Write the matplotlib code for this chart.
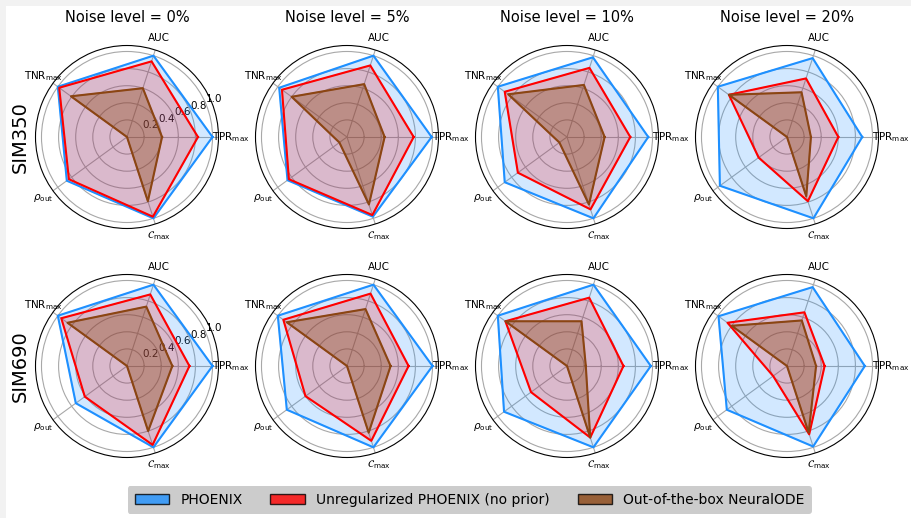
import numpy as np
import matplotlib
matplotlib.use("Agg")
import matplotlib.pyplot as plt
from matplotlib.patches import Patch, Rectangle

# axis labels (counter-clockwise from the right, 72 deg apart)
metrics = ['TPR$_{\\max}$', 'AUC', 'TNR$_{\\max}$', r'$\rho_{\mathrm{out}}$', r'$\mathcal{C}_{\max}$']
noise_levels = ['0%', '5%', '10%', '20%']
datasets = ['SIM350', 'SIM690']
methods = ['PHOENIX', 'Unregularized PHOENIX (no prior)', 'Out-of-the-box NeuralODE']
colors = ['dodgerblue', 'red', 'saddlebrown']

# values, one row per noise level
phoenix_350 = [[1.00, 1.00, 1.00, 0.87, 1.00],
               [0.99, 1.00, 0.98, 0.86, 0.98],
               [0.95, 0.98, 1.00, 0.90, 1.00],
               [0.88, 0.97, 1.00, 0.97, 1.00]]
unreg_350 = [[0.83, 0.93, 0.98, 0.84, 0.98],
             [0.78, 0.88, 0.94, 0.84, 0.96],
             [0.74, 0.85, 0.90, 0.71, 0.89],
             [0.60, 0.72, 0.84, 0.41, 0.79]]
node_350 = [[0.41, 0.60, 0.81, 0.00, 0.79],
            [0.44, 0.65, 0.80, 0.11, 0.83],
            [0.44, 0.64, 0.85, 0.11, 0.83],
            [0.28, 0.55, 0.84, 0.00, 0.73]]

phoenix_690 = [[1.00, 1.00, 1.00, 0.74, 1.00],
               [1.00, 1.00, 1.00, 0.87, 1.00],
               [0.98, 1.00, 1.00, 0.91, 1.00],
               [0.91, 0.97, 0.99, 0.87, 0.99]]
unreg_690 = [[0.73, 0.88, 0.95, 0.61, 0.97],
             [0.72, 0.89, 0.92, 0.60, 0.92],
             [0.66, 0.84, 0.89, 0.52, 0.88],
             [0.44, 0.66, 0.86, 0.20, 0.84]]
node_690 = [[0.53, 0.73, 0.86, 0.00, 0.80],
            [0.51, 0.70, 0.87, 0.00, 0.82],
            [0.22, 0.55, 0.89, 0.00, 0.88],
            [0.34, 0.56, 0.80, 0.00, 0.82]]

results = {'SIM350': [phoenix_350, unreg_350, node_350],
           'SIM690': [phoenix_690, unreg_690, node_690]}

angles = np.linspace(0, 2 * np.pi, len(metrics), endpoint=False)
closed = np.concatenate([angles, angles[:1]])

fig = plt.figure(figsize=(9.12, 5.18), dpi=100)
fig.patch.set_facecolor('#f2f2f2')
fig.add_artist(Rectangle((6 / 912, 0), 1, 1 - 6 / 518, transform=fig.transFigure,
                         facecolor='white', edgecolor='none', zorder=-1))

w, h = 183 / 912, 183 / 518
centers_x = [127, 347, 567, 787]
centers_y = [137, 366]

for i, ds in enumerate(datasets):
    for j, nl in enumerate(noise_levels):
        left = (centers_x[j] - 91.5) / 912
        bottom = (518 - centers_y[i] - 91.5) / 518
        ax = fig.add_axes([left, bottom, w, h], projection='polar')
        for k, vals in enumerate(results[ds]):
            v = np.array(vals[j] + vals[j][:1])
            ax.fill(closed, v, color=colors[k], alpha=0.37 if k == 2 else 0.2, zorder=2)
            ax.plot(closed, v, color=colors[k], lw=1.5, zorder=3)
        ax.set_ylim(0, 1.07)
        ax.set_yticks([0.2, 0.4, 0.6, 0.8, 1.0])
        if j == 0:
            ax.set_yticklabels(['0.2', '0.4', '0.6', '0.8', '1.0'], fontsize=7.5)
        else:
            ax.set_yticklabels([])
        ax.set_xticks(angles)
        ax.set_xticklabels(metrics, fontsize=7.5)
        ax.tick_params(axis='x', pad=-1.5)
        ax.grid(color='#a8a8a8', lw=0.8)
        if i == 0:
            ax.set_title('Noise level = ' + nl, fontsize=10.5, pad=17)
        if j == 0:
            fig.text(0.022, 1 - centers_y[i] / 518, ds, rotation=90,
                     fontsize=14, va='center', ha='center')

handles = [Patch(facecolor=c, edgecolor='k', alpha=0.8) for c in colors]
fig.legend(handles, methods, loc='center', bbox_to_anchor=(0.515, 0.035), ncol=3,
           fontsize=10, facecolor='silver', framealpha=0.8, edgecolor='none',
           handlelength=2.5, columnspacing=2.0, borderpad=0.5)

fig.savefig('out.png', dpi=100, facecolor=fig.get_facecolor())
